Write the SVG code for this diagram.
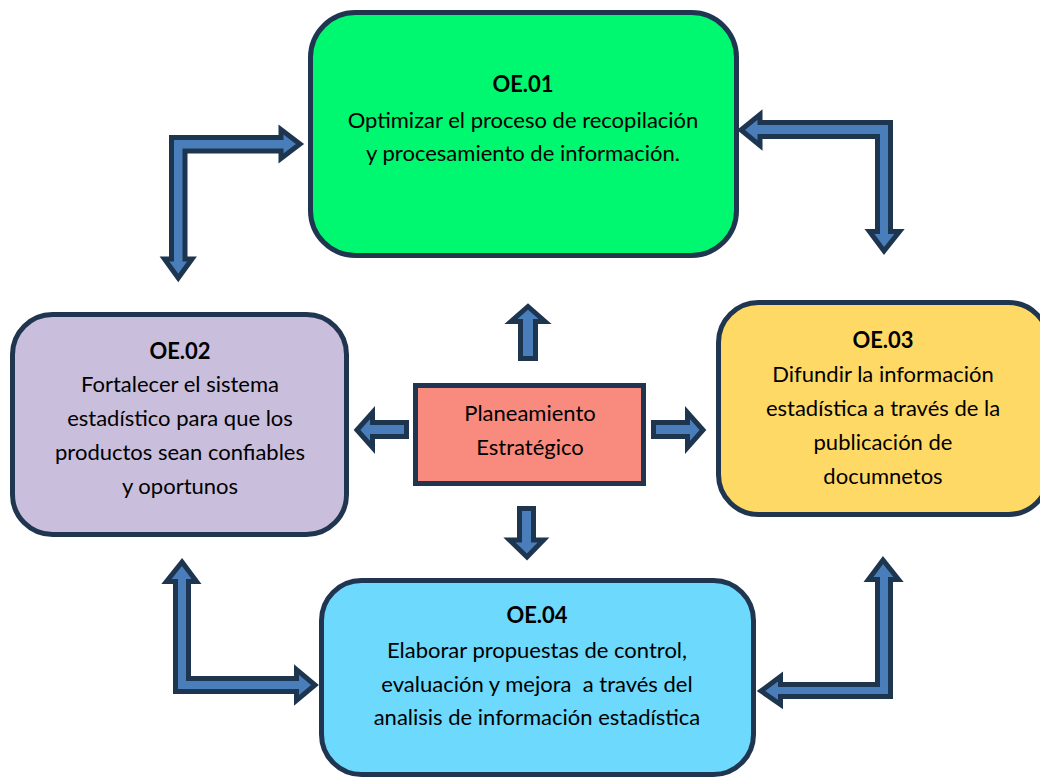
<svg xmlns="http://www.w3.org/2000/svg" width="1040" height="777" viewBox="0 0 1040 777">
<style>
.box{stroke:#1F3550;stroke-width:5}
.arr{fill:#4A7EBB;stroke:#1E3550;stroke-width:5;stroke-linejoin:miter}
text{font-family:Lato,"Liberation Sans",sans-serif;font-size:22px;fill:#000;text-anchor:middle}
.b{font-weight:bold}
</style>
<rect width="1040" height="777" fill="#ffffff"/>
<g id="connectors">
<path class="arr" d="M171.5 137.5 L281 137.5 L281 129.5 L300 144 L281 158.5 L281 151 L185 151 L185 259 L192 259 L178.25 278 L164.5 259 L171.5 259 Z"/>
<path class="arr" d="M741 130 L760 114.5 L760 122.5 L890.5 122.5 L890.5 231.5 L899.5 231.5 L884 251 L869.5 231.5 L877.5 231.5 L877.5 136.5 L760 136.5 L760 145.5 Z"/>
<path class="arr" d="M182 562 L196.5 581.5 L188.5 581.5 L188.5 678.5 L296.5 678.5 L296.5 669.5 L315 685 L296.5 700.5 L296.5 691.5 L175.5 691.5 L175.5 581.5 L166.5 581.5 Z"/>
<path class="arr" d="M883 560 L898.5 579.5 L890.5 579.5 L890.5 696.5 L780.5 696.5 L780.5 704.5 L761 691 L780.5 676.5 L780.5 684.5 L877.5 684.5 L877.5 579.5 L868.5 579.5 Z"/>
<path class="arr" d="M528 306.5 L545 321.5 L535.5 321.5 L535.5 358.5 L520.5 358.5 L520.5 321.5 L511 321.5 Z"/>
<path class="arr" d="M357 430 L372.5 412.5 L372.5 422.5 L406.5 422.5 L406.5 436.5 L372.5 436.5 L372.5 447.5 Z"/>
<path class="arr" d="M653.5 422.5 L687.5 422.5 L687.5 412.5 L703 430 L687.5 447.5 L687.5 436.5 L653.5 436.5 Z"/>
<path class="arr" d="M519.5 508.5 L533.5 508.5 L533.5 540 L543.5 540 L527 557 L509.5 540 L519.5 540 Z"/>
</g>
<g id="oe01">
<rect class="box" x="310.5" y="12.5" width="426" height="243" rx="45" fill="#00F870"/>
<text class="b" x="523" y="92">OE.01</text>
<text x="523" y="128">Optimizar el proceso de recopilación</text>
<text x="523" y="161">y procesamiento de información.</text>
</g>
<g id="oe02">
<rect class="box" x="12.5" y="314.5" width="334" height="220" rx="40" fill="#C9BEDB"/>
<text class="b" x="180" y="359">OE.02</text>
<text x="180" y="392">Fortalecer el sistema</text>
<text x="180" y="426">estadístico para que los</text>
<text x="180" y="460">productos sean confiables</text>
<text x="180" y="494">y oportunos</text>
</g>
<g id="oe03">
<rect class="box" x="718.5" y="302.5" width="330" height="212" rx="40" fill="#FFD966"/>
<text class="b" x="883" y="348">OE.03</text>
<text x="883" y="382">Difundir la información</text>
<text x="883" y="416">estadística a través de la</text>
<text x="883" y="450">publicación de</text>
<text x="883" y="484">documnetos</text>
</g>
<g id="oe04">
<rect class="box" x="321.5" y="580.5" width="432" height="194" rx="40" fill="#6CD9FD"/>
<text class="b" x="537" y="623">OE.04</text>
<text x="537" y="658">Elaborar propuestas de control,</text>
<text x="537" y="692" xml:space="preserve">evaluación y mejora  a través del</text>
<text x="537" y="725">analisis de información estadística</text>
</g>
<g id="center">
<rect class="box" x="415.5" y="385.5" width="228" height="98" fill="#F98A7E"/>
<text x="530" y="421">Planeamiento</text>
<text x="530" y="455">Estratégico</text>
</g>
</svg>
